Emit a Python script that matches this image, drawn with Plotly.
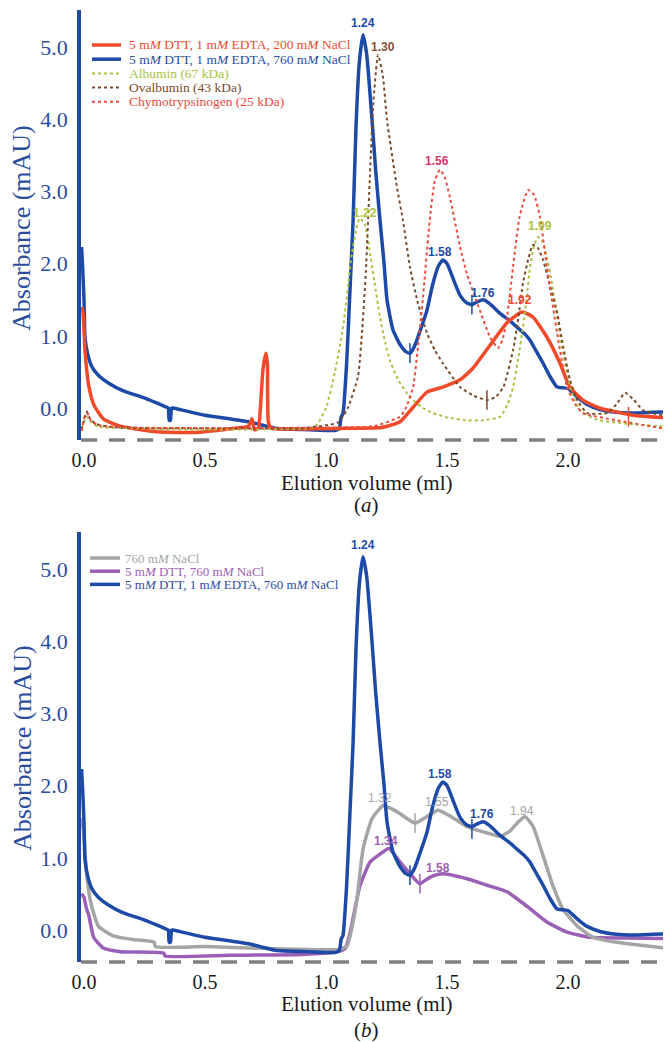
import plotly.graph_objects as go

# ---------------- data (elution volume in ml, absorbance in mAU) ----------------
blue_x = [-0.01, -0.005, 0.0, 0.004, 0.015, 0.033, 0.06, 0.099, 0.16, 0.24, 0.3, 0.335, 0.348,
          0.352, 0.357, 0.362, 0.368, 0.42, 0.5, 0.6, 0.68, 0.79, 0.93, 1.04, 1.055, 1.063, 1.07,
          1.085, 1.1, 1.112, 1.124, 1.138, 1.153, 1.168, 1.19, 1.205, 1.223, 1.24, 1.252, 1.277,
          1.306, 1.33, 1.347, 1.365, 1.39, 1.417, 1.44, 1.465, 1.483, 1.5, 1.53, 1.554, 1.58,
          1.603, 1.625, 1.649, 1.675, 1.719, 1.755, 1.789, 1.82, 1.843, 1.87, 1.897, 1.925,
          1.955, 1.98, 2.0, 2.02, 2.05, 2.079, 2.132, 2.2, 2.269, 2.35, 2.425]
blue_y = [2.23, 1.9, 1.5, 0.98, 0.75, 0.57, 0.45, 0.35, 0.24, 0.15, 0.07, 0.02, 0.0,
          -0.17, -0.17, 0.0, 0.0, -0.04, -0.10, -0.15, -0.19, -0.28, -0.30, -0.31, -0.28, -0.12, -0.08,
          0.6, 1.7, 2.6, 3.9, 4.8, 5.17, 4.9, 4.0, 3.3, 2.6, 2.0, 1.5, 1.08,
          0.88, 0.78, 0.76, 0.85, 1.08, 1.35, 1.70, 1.97, 2.05, 2.0, 1.75, 1.56, 1.46,
          1.43, 1.47, 1.50, 1.45, 1.31, 1.22, 1.12, 1.03, 0.94, 0.78, 0.62, 0.44,
          0.29, 0.28, 0.27, 0.21, 0.12, 0.05, -0.02, -0.06, -0.07, -0.06, -0.05]

red_x = [-0.01, -0.005, 0.0, 0.004, 0.012, 0.02, 0.04, 0.08, 0.15, 0.3, 0.45, 0.55, 0.62, 0.68,
         0.694, 0.705, 0.72, 0.728, 0.74, 0.752, 0.758, 0.762, 0.775, 0.9, 1.1, 1.23, 1.306, 1.36,
         1.417, 1.483, 1.554, 1.607, 1.678, 1.748, 1.81, 1.855, 1.913, 1.967, 2.008, 2.062, 2.13,
         2.27, 2.425]
red_y = [1.4, 1.35, 1.1, 0.8, 0.5, 0.3, 0.05, -0.15, -0.25, -0.33, -0.34, -0.31, -0.28, -0.25,
         -0.15, -0.3, -0.28, -0.05, 0.55, 0.76, 0.6, -0.2, -0.28, -0.29, -0.28, -0.27, -0.19, 0.01,
         0.22, 0.29, 0.39, 0.55, 0.87, 1.18, 1.33, 1.26, 0.98, 0.62, 0.29, 0.11, 0.0,
         -0.10, -0.14]

albumin_x = [-0.01, 0.0, 0.01, 0.03, 0.06, 0.2, 0.5, 0.8, 0.955, 1.0, 1.037, 1.07, 1.107, 1.13,
             1.14, 1.16, 1.18, 1.2, 1.223, 1.245, 1.264, 1.3, 1.347, 1.4, 1.442, 1.5, 1.58, 1.65,
             1.72, 1.75, 1.773, 1.795, 1.814, 1.83, 1.843, 1.86, 1.876, 1.895, 1.913, 1.935, 1.955,
             1.975, 1.996, 2.02, 2.05, 2.09, 2.13, 2.25, 2.425]
albumin_y = [-0.28, -0.2, -0.12, -0.2, -0.26, -0.28, -0.30, -0.29, -0.26, 0.0, 0.5, 1.1, 2.14, 2.55,
             2.63, 2.55, 2.19, 1.75, 1.26, 0.9, 0.66, 0.38, 0.15, 0.0, -0.07, -0.13, -0.17, -0.17,
             -0.12, 0.05, 0.29, 0.7, 1.12, 1.55, 1.95, 2.25, 2.37, 2.3, 2.09, 1.7, 1.26,
             0.85, 0.48, 0.17, -0.03, -0.12, -0.17, -0.22, -0.26]

ovalbumin_x = [-0.01, -0.003, 0.005, 0.012, 0.025, 0.05, 0.1, 0.3, 0.6, 0.9, 1.05, 1.09, 1.132,
               1.15, 1.165, 1.18, 1.195, 1.215, 1.235, 1.252, 1.293, 1.318, 1.347, 1.38, 1.417,
               1.45, 1.483, 1.554, 1.61, 1.665, 1.70, 1.733, 1.773, 1.795, 1.814, 1.835, 1.855,
               1.875, 1.897, 1.925, 1.955, 1.98, 2.008, 2.04, 2.079, 2.16, 2.2, 2.236, 2.27, 2.31,
               2.36, 2.425]
ovalbumin_y = [-0.3, -0.2, -0.1, -0.05, -0.15, -0.22, -0.26, -0.28, -0.28, -0.28, -0.2, 0.0, 0.43,
               1.1, 1.9, 3.1, 4.2, 4.89, 4.6, 3.99, 3.06, 2.6, 1.95, 1.45, 1.04,
               0.8, 0.62, 0.29, 0.17, 0.11, 0.15, 0.29, 0.80, 1.25, 1.73, 2.05, 2.26,
               2.22, 2.05, 1.7, 1.32, 0.85, 0.39, 0.1, -0.07, -0.07, 0.05, 0.21, 0.12, -0.03,
               -0.08, -0.12]

chymo_x = [-0.01, -0.003, 0.005, 0.015, 0.03, 0.06, 0.2, 0.6, 1.0, 1.2, 1.306, 1.33, 1.36, 1.38,
           1.40, 1.43, 1.45, 1.471, 1.49, 1.512, 1.554, 1.583, 1.636, 1.678, 1.711, 1.73, 1.748,
           1.773, 1.80, 1.835, 1.86, 1.884, 1.913, 1.955, 1.996, 2.03, 2.062, 2.2, 2.425]
chymo_y = [-0.32, -0.2, -0.1, -0.08, -0.18, -0.24, -0.27, -0.28, -0.27, -0.25, -0.12, 0.0, 0.29, 0.85,
           1.50, 2.65, 3.15, 3.30, 3.2, 2.92, 2.23, 1.85, 1.35, 0.98, 0.83, 0.95, 1.26,
           1.95, 2.65, 3.02, 2.95, 2.65, 1.95, 1.04, 0.29, 0.05, -0.07, -0.17, -0.30]

gray_x = [-0.01, 0.0, 0.01, 0.03, 0.06, 0.12, 0.2, 0.29, 0.295, 0.5, 0.8, 1.05, 1.087, 1.105,
          1.128, 1.153, 1.19, 1.236, 1.27, 1.306, 1.368, 1.417, 1.463, 1.512, 1.583, 1.649, 1.719,
          1.76, 1.795, 1.822, 1.855, 1.897, 1.938, 1.979, 2.037, 2.103, 2.2, 2.3, 2.425]
gray_y = [1.55, 1.3, 0.8, 0.35, 0.05, -0.08, -0.13, -0.17, -0.23, -0.23, -0.26, -0.27, -0.22, 0.0,
          0.43, 1.12, 1.54, 1.72, 1.68, 1.61, 1.48, 1.57, 1.66, 1.58, 1.43, 1.36, 1.30,
          1.37, 1.5, 1.57, 1.44, 1.03, 0.61, 0.29, 0.06, -0.10, -0.17, -0.21, -0.26]

purple_x = [-0.01, 0.0, 0.01, 0.02, 0.04, 0.08, 0.15, 0.33, 0.335, 0.6, 0.9, 1.05, 1.08, 1.1, 1.12,
            1.14, 1.182, 1.223, 1.26, 1.306, 1.355, 1.388, 1.415, 1.442, 1.483, 1.583, 1.665, 1.748,
            1.83, 1.913, 1.996, 2.09, 2.25, 2.425]
purple_y = [0.5, 0.45, 0.3, 0.2, -0.1, -0.25, -0.30, -0.32, -0.36, -0.35, -0.34, -0.3, -0.25, -0.03, 0.3,
            0.61, 0.94, 1.05, 1.13, 0.94, 0.75, 0.64, 0.70, 0.75, 0.78, 0.71, 0.62, 0.53,
            0.33, 0.11, -0.03, -0.10, -0.11, -0.12]

# small vertical marks on the traces
marks_a_x = [1.347, 1.603, 1.665, 2.25]
marks_a_y = [0.76, 1.43, 0.11, -0.12]
marks_b_x = [1.347, 1.368, 1.388, 1.603]
marks_b_y = [0.76, 1.48, 0.64, 1.40]

# peak labels
peaks_a_text = ["1.24", "1.30", "1.22", "1.56", "1.58", "1.76", "1.92", "1.99"]
peaks_a_x = [1.153, 1.235, 1.16, 1.458, 1.471, 1.65, 1.80, 1.884]
peaks_a_y = [5.33, 5.0, 2.70, 3.42, 2.16, 1.59, 1.50, 2.52]
peaks_b_text = ["1.24", "1.32", "1.55", "1.94", "1.34", "1.58", "1.58", "1.76"]
peaks_b_x = [1.153, 1.223, 1.459, 1.81, 1.248, 1.463, 1.471, 1.645]
peaks_b_y = [5.33, 1.83, 1.77, 1.65, 1.23, 0.86, 2.16, 1.61]

x_ticks = [0.0, 0.5, 1.0, 1.5, 2.0]
y_ticks = [0.0, 1.0, 2.0, 3.0, 4.0, 5.0]

legend_a = ["5 m<i>M</i> DTT, 1 m<i>M</i> EDTA, 200 m<i>M</i> NaCl",
            "5 m<i>M</i> DTT, 1 m<i>M</i> EDTA, 760 m<i>M</i> NaCl",
            "Albumin (67 kDa)", "Ovalbumin (43 kDa)", "Chymotrypsinogen (25 kDa)"]
legend_b = ["760 m<i>M</i> NaCl", "5 m<i>M</i> DTT, 760 m<i>M</i> NaCl",
            "5 m<i>M</i> DTT, 1 m<i>M</i> EDTA, 760 m<i>M</i> NaCl"]

# ---------------- styling ----------------
W, H = 671, 1042
OFF = 8  # page body margin of the html page
BLUE = "#1c4aa6"
BLUE_TXT = "#2b4d9e"
RED = "#f04a2a"
GREEN = "#a9c23f"
BROWN = "#7b4a2b"
CHYMO = "#ec4a3c"
GRAY = "#a5a5a5"
PURPLE = "#9b60b6"
SERIF = "Liberation Serif"
SANS = "Liberation Sans"


def pxx(v):
    return (v - OFF) / W


def pxy(v):
    return 1 - (v - OFF) / H


fig = go.Figure()


def curve(x, y, color, width, dash, xa, ya):
    fig.add_trace(go.Scatter(
        x=x, y=y, mode="lines", xaxis=xa, yaxis=ya, showlegend=False, hoverinfo="skip",
        line=dict(color=color, width=width, dash=dash, shape="spline", smoothing=0.5)))


# panel (a)
curve(blue_x, blue_y, BLUE, 3.5, "solid", "x", "y")
curve(red_x, red_y, RED, 3.5, "solid", "x", "y")
curve(albumin_x, albumin_y, GREEN, 2, "dot", "x", "y")
curve(ovalbumin_x, ovalbumin_y, BROWN, 2, "dot", "x", "y")
curve(chymo_x, chymo_y, CHYMO, 2, "dot", "x", "y")
# panel (b)
curve(purple_x, purple_y, PURPLE, 3.5, "solid", "x2", "y2")
curve(gray_x, gray_y, GRAY, 3.5, "solid", "x2", "y2")
curve(blue_x, blue_y, BLUE, 3.5, "solid", "x2", "y2")

mc_a = [BLUE, BLUE, BROWN, RED]
mc_b = [BLUE, GRAY, PURPLE, BLUE]
fig.add_trace(go.Scatter(
    x=marks_a_x, y=marks_a_y, mode="markers", xaxis="x", yaxis="y", showlegend=False,
    hoverinfo="skip",
    marker=dict(symbol="line-ns-open", size=14, color=mc_a, line=dict(width=1.5, color=mc_a))))
fig.add_trace(go.Scatter(
    x=marks_b_x, y=marks_b_y, mode="markers", xaxis="x2", yaxis="y2", showlegend=False,
    hoverinfo="skip",
    marker=dict(symbol="line-ns-open", size=14, color=mc_b, line=dict(width=1.5, color=mc_b))))

annotations = []
colors_a = [BLUE, "#8b4e3a", GREEN, "#d8336b", BLUE, BLUE, RED, GREEN]
for t, x, y, c in zip(peaks_a_text, peaks_a_x, peaks_a_y, colors_a):
    annotations.append(dict(text="<b>%s</b>" % t, x=x, y=y, xref="x", yref="y", showarrow=False,
                            font=dict(family=SANS, size=12, color=c)))
colors_b = [BLUE, GRAY, GRAY, GRAY, PURPLE, PURPLE, BLUE, BLUE]
bold_b = [True, False, False, False, True, True, True, True]
for t, x, y, c, b in zip(peaks_b_text, peaks_b_x, peaks_b_y, colors_b, bold_b):
    annotations.append(dict(text=("<b>%s</b>" % t) if b else t, x=x, y=y, xref="x2", yref="y2",
                            showarrow=False, font=dict(family=SANS, size=12, color=c)))

# axis titles and panel letters
for yc, ylab, ysub, letter in [(228, 483, 505, "a"), (748, 1004, 1030, "b")]:
    annotations.append(dict(text="Absorbance (mAU)", x=pxx(22), y=pxy(yc), xref="paper", yref="paper",
                            xanchor="center", yanchor="middle",
                            showarrow=False, textangle=-90, font=dict(family=SERIF, size=26, color=BLUE_TXT)))
    annotations.append(dict(text="Elution volume (ml)", x=pxx(366), y=pxy(ylab), xref="paper",
                            yref="paper", xanchor="center", yanchor="middle", showarrow=False,
                            font=dict(family=SERIF, size=21, color="#1a1a1a")))
    annotations.append(dict(text="(<i>%s</i>)" % letter, x=pxx(366), y=pxy(ysub), xref="paper",
                            yref="paper", xanchor="center", yanchor="middle", showarrow=False,
                            font=dict(family=SERIF, size=21, color="#1a1a1a")))

shapes = []
# legend (a)
leg_a_style = [(RED, 3.5, "solid"), (BLUE, 3.5, "solid"), (GREEN, 2, "dot"), (BROWN, 2, "dot"),
               (CHYMO, 2, "dot")]
leg_a_txt = [RED, BLUE_TXT, GREEN, BROWN, CHYMO]
for i, (name, (c, w, d), tc) in enumerate(zip(legend_a, leg_a_style, leg_a_txt)):
    yy = 45 + i * 14.2
    shapes.append(dict(type="line", xref="paper", yref="paper", x0=pxx(92), x1=pxx(121),
                       y0=pxy(yy), y1=pxy(yy), line=dict(color=c, width=w, dash=d)))
    annotations.append(dict(text=name, x=pxx(127), y=pxy(yy), xref="paper", yref="paper",
                            xanchor="left", yanchor="middle", showarrow=False,
                            font=dict(family=SERIF, size=13.5, color=tc)))
# legend (b)
leg_b_style = [GRAY, PURPLE, BLUE]
leg_b_txt = [GRAY, PURPLE, BLUE_TXT]
for i, (name, c, tc) in enumerate(zip(legend_b, leg_b_style, leg_b_txt)):
    yy = 558 + i * 13.2
    shapes.append(dict(type="line", xref="paper", yref="paper", x0=pxx(90), x1=pxx(120),
                       y0=pxy(yy), y1=pxy(yy), line=dict(color=c, width=3.5)))
    annotations.append(dict(text=name, x=pxx(123), y=pxy(yy), xref="paper", yref="paper",
                            xanchor="left", yanchor="middle", showarrow=False,
                            font=dict(family=SERIF, size=13, color=tc)))

# dashed baselines
for yref in ["y domain", "y2 domain"]:
    shapes.append(dict(type="line", xref="paper", yref=yref, x0=pxx(81), x1=1, y0=0, y1=0,
                       line=dict(color="#808080", width=3.5, dash="16px,12px")))

# x scale: 0 ml at page px 84, 242 px per ml; page px 81 is the left edge of the axes
xr = [(81 - 84) / 242, (W + OFF - 84) / 242]
yr = [-0.443, 5.512]
xaxis_common = dict(range=xr, domain=[pxx(81), 1], tickvals=x_ticks,
                    ticktext=["%.1f" % v for v in x_ticks], showgrid=False, zeroline=False,
                    showline=False, ticks="", ticklabelstandoff=6,
                    tickfont=dict(family=SERIF, size=20, color="#1a1a1a"))
yaxis_common = dict(range=yr, tickvals=y_ticks, ticktext=["%.1f" % v for v in y_ticks],
                    showgrid=False, zeroline=False, showline=True, linecolor=BLUE, linewidth=3.5,
                    ticks="", ticklabelstandoff=5,
                    tickfont=dict(family=SERIF, size=22, color=BLUE_TXT))

fig.update_layout(
    width=W, height=H, template="none",
    paper_bgcolor="white", plot_bgcolor="white",
    margin=dict(l=0, r=0, t=0, b=0, pad=0),
    showlegend=False,
    xaxis=dict(anchor="y", **xaxis_common),
    yaxis=dict(anchor="x", domain=[pxy(440), pxy(10)], **yaxis_common),
    xaxis2=dict(anchor="y2", **xaxis_common),
    yaxis2=dict(anchor="x2", domain=[pxy(962), pxy(532)], **yaxis_common),
    annotations=annotations,
    shapes=shapes,
)

fig.write_html("out.html")
